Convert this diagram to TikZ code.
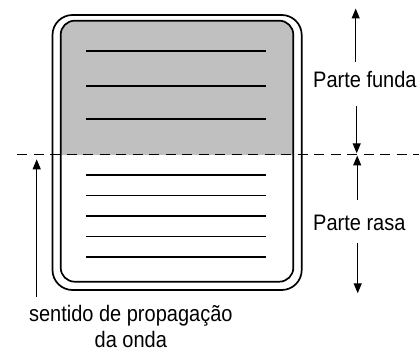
\documentclass[tikz,border=0pt]{standalone}
\usepackage{fontspec}
\setmainfont{Liberation Sans}
\usetikzlibrary{arrows.meta}
\definecolor{deepgray}{RGB}{192,192,192}
\newcommand{\tallt}[1]{\scalebox{1}[1.12]{#1}}
\begin{document}
\begin{tikzpicture}[x=1pt,y=-1pt,
  lbl/.style={font=\fontsize{20}{25.6}\selectfont, inner sep=0pt},
  box/.style={draw=black, line width=1.7pt},
  hatch/.style={line width=1.7pt},
  arr/.style={line width=1.2pt, -{Triangle[length=10pt,width=8pt]}},
  wave/.style={dash pattern=on 10pt off 6.5pt, line width=1.2pt}]
\useasboundingbox (0,0) rectangle (419,352);
% gray deep region
\begin{scope}
  \clip (0,0) rectangle (419,154.3);
  \fill[deepgray, rounded corners=14pt] (60.7,20.7) rectangle (293.3,281.7);
\end{scope}
% tank
\draw[box, rounded corners=20pt] (52.5,15) rectangle (301.7,290);
\draw[box, rounded corners=14pt] (60.7,20.7) rectangle (293.3,281.7);
% wave fronts
\foreach \yy in {51,85.7,119.3,175,195.5,216,236.5,257}
  \draw[hatch] (86,\yy) -- (266,\yy);
% boundary
\coordinate (bl) at (17,154.3);
\coordinate (br) at (419,154.3);
\draw[wave] (bl) -- (br);
% labels
\node[lbl, anchor=base west] (funda) at (313,88) {\tallt{Parte funda}};
\node[lbl, anchor=base west] (rasa) at (313,230) {\tallt{Parte rasa}};
\node[lbl, anchor=base] (sentido) at (130.8,321.7) {\tallt{sentido de propagação}};
\node[lbl, anchor=base] (onda) at (130.8,347.3) {\tallt{da onda}};
% right arrows
\coordinate (f1) at (355.7,62);
\coordinate (f0) at (355.7,8.5);
\coordinate (f2) at (356.7,106);
\coordinate (f3) at (356.7,153.3);
\coordinate (r1) at (357.2,200);
\coordinate (r0) at (357.2,155.5);
\coordinate (r2) at (357.7,242.7);
\coordinate (r3) at (357.7,293.3);
\draw[arr] (f1) -- (f0);
\draw[arr] (f2) -- (f3);
\draw[arr] (r1) -- (r0);
\draw[arr] (r2) -- (r3);
% propagation arrow
\coordinate (p0) at (36.7,296.7);
\coordinate (p1) at (36.7,159.3);
\draw[arr] (p0) -- (p1);
\end{tikzpicture}
\end{document}
